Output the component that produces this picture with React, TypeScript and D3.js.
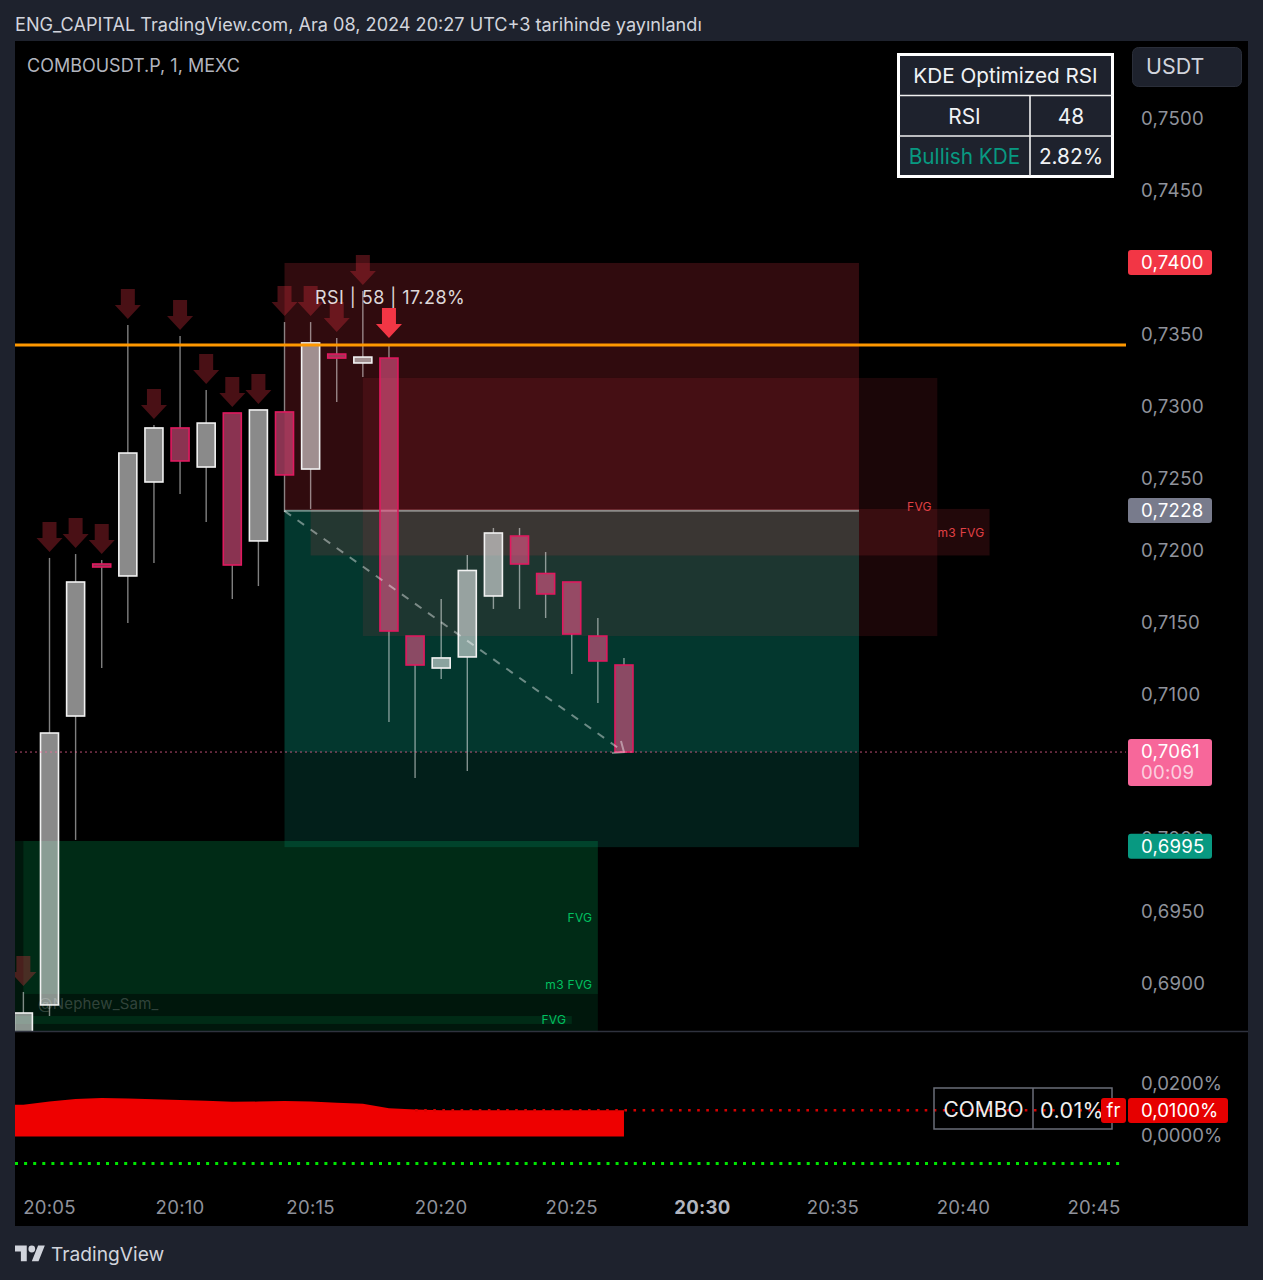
import React, { useEffect, useRef } from 'react';
import * as d3 from 'd3';

const minutes = [4, 5, 6, 7, 8, 9, 10, 11, 12, 13, 14, 15, 16, 17, 18, 19, 20, 21, 22, 23, 24, 25, 26, 27];
const opens = [0.686, 0.68845, 0.7085, 0.71905, 0.71822, 0.72474, 0.72849, 0.72578, 0.72953, 0.72065, 0.7296, 0.72564, 0.73362, 0.733, 0.73334, 0.71405, 0.71183, 0.7126, 0.71683, 0.72099, 0.71839, 0.7178, 0.71405, 0.71204];
const highs = [0.68935, 0.71947, 0.71974, 0.71933, 0.73564, 0.7287, 0.73487, 0.73112, 0.72953, 0.72974, 0.73584, 0.73584, 0.73473, 0.73799, 0.73432, 0.71405, 0.71662, 0.71967, 0.72155, 0.72155, 0.71988, 0.7178, 0.7153, 0.71253];
const lows = [0.6855, 0.68768, 0.6999, 0.71183, 0.71496, 0.71912, 0.72391, 0.72196, 0.71662, 0.71752, 0.72266, 0.72287, 0.73029, 0.73203, 0.70808, 0.7042, 0.71107, 0.70468, 0.71593, 0.71593, 0.7153, 0.71142, 0.7094, 0.706];
const closes = [0.68789, 0.70732, 0.7178, 0.71884, 0.72675, 0.72849, 0.7262, 0.72883, 0.71898, 0.72974, 0.72523, 0.73439, 0.73334, 0.73341, 0.7144, 0.71204, 0.71253, 0.7186, 0.7212, 0.71905, 0.71697, 0.71419, 0.71232, 0.706];

const fadedArrowMinutes = [4, 5, 6, 7, 8, 9, 10, 11, 12, 13, 14, 15, 16, 17];
const strongArrowMinutes = [18];

const fundingMinutes = [3, 4, 5, 6, 7, 8, 9, 10, 11, 12, 13, 14, 15, 16, 17, 18, 19, 20, 27];
const fundingValues = [0.012, 0.0121, 0.0133, 0.0143, 0.0147, 0.0145, 0.0142, 0.0139, 0.0136, 0.0132, 0.0133, 0.0135, 0.0133, 0.0129, 0.0125, 0.0108, 0.0103, 0.01, 0.01];

const priceTicks = [0.75, 0.745, 0.74, 0.735, 0.73, 0.725, 0.72, 0.715, 0.71, 0.705, 0.7, 0.695, 0.69];
const fundingTicks = [0.02, 0.01, 0];
const timeTicks = [5, 10, 15, 20, 25, 30, 35, 40, 45];

// [from minute, to minute, top price, bottom price]
const redZones = [
    [14, 36, 0.73994, 0.7228],
    [17, 39, 0.73196, 0.71405],
    [15, 41, 0.72287, 0.71964],
];
const redZoneOpacity = [0.2, 0.11, 0.14];
const tealZones = [
    [14, 36, 0.7228, 0.6994],
    [14, 36, 0.7228, 0.706],
];
const greenZones = [
    [3, 26, 0.69983, 0.686],
    [4, 26, 0.69983, 0.68921],
    [3, 25, 0.68768, 0.68713],
];

const resistancePrice = 0.73425;
const lastPrice = 0.706;
const entryPrice = 0.7228;
const fundingFloor = -0.0103;
const fundingNow = 0.01;

const fmtPrice = (v: number) => d3.format('.4f')(v).replace('.', ',');
const fmtPct = (v: number) => d3.format('.4f')(v).replace('.', ',') + '%';

const FONT = 'Inter, "Noto Sans", sans-serif';
const BG = '#1e222d';

const App = () => {
    const svgRef = useRef<SVGSVGElement>(null);

    useEffect(() => {
        const svg = d3.select(svgRef.current);
        svg.selectAll('*').remove();

        const x = d3.scaleLinear().domain([5, 45]).range([49.5, 1094]);
        const y = d3.scaleLinear().domain([0.75, 0.69]).range([118, 982.6]);
        const fy = d3.scaleLinear().domain([0, 0.02]).range([1136.5, 1084]);

        // frame
        svg.append('rect').attr('width', 1263).attr('height', 1280).attr('fill', BG);
        svg.append('rect').attr('x', 15).attr('y', 41).attr('width', 1233).attr('height', 1185).attr('fill', '#000');

        const defs = svg.append('defs');
        defs.append('clipPath').attr('id', 'mainClip').append('rect')
            .attr('x', 15).attr('y', 41).attr('width', 1233).attr('height', 990);
        defs.append('clipPath').attr('id', 'fundClip').append('rect')
            .attr('x', 15).attr('y', 1032).attr('width', 1233).attr('height', 160);

        const text = (
            parent: any, str: string, tx: number, ty: number, size: number, fill: string,
            anchor = 'start', spacing = 0
        ) => parent.append('text')
            .attr('x', tx).attr('y', ty).attr('dy', '0.35em')
            .attr('font-family', FONT).attr('font-size', size).attr('fill', fill)
            .attr('text-anchor', anchor).attr('letter-spacing', spacing)
            .text(str);

        text(svg, 'ENG_CAPITAL TradingView.com, Ara 08, 2024 20:27 UTC+3 tarihinde yayınlandı', 15, 24.5, 18.13, '#d1d4dc');
        text(svg, 'COMBOUSDT.P, 1, MEXC', 27, 65.5, 18, '#b2b5be');

        const main = svg.append('g').attr('clip-path', 'url(#mainClip)');

        // zones, teal goes under the red ones
        const zone = (d: number[], fill: string, opacity: number) => main.append('rect')
            .attr('x', x(d[0])).attr('width', x(d[1]) - x(d[0]))
            .attr('y', y(d[2])).attr('height', y(d[3]) - y(d[2]))
            .attr('fill', fill).attr('fill-opacity', opacity);

        tealZones.forEach(d => zone(d, '#089981', 0.2));
        redZones.forEach((d, i) => zone(d, '#f23645', redZoneOpacity[i]));
        greenZones.forEach(d => zone(d, '#00e676', 0.1));

        main.append('line')
            .attr('x1', x(14)).attr('x2', x(36))
            .attr('y1', y(entryPrice) + 0.7).attr('y2', y(entryPrice) + 0.7)
            .attr('stroke', '#fff').attr('stroke-opacity', 0.42).attr('stroke-width', 2);

        text(main, '@Nephew_Sam_', 38, 1004, 15, '#fff', 'start', 0.2).attr('fill-opacity', 0.2);

        // candles
        const candles = main.selectAll('g.candle')
            .data(minutes.map((m, i) => ({ m, o: opens[i], h: highs[i], l: lows[i], c: closes[i] })))
            .join('g').attr('class', 'candle');

        const wick = (from: (d: any) => number, to: (d: any) => number) => candles.append('line')
            .attr('x1', d => x(d.m)).attr('x2', d => x(d.m))
            .attr('y1', from).attr('y2', to)
            .attr('stroke', '#fff').attr('stroke-opacity', 0.5).attr('stroke-width', 1.4);
        wick(d => y(d.h), d => y(Math.max(d.o, d.c)));
        wick(d => y(Math.min(d.o, d.c)), d => y(d.l));

        const bodyWidth = 18;
        candles.append('rect')
            .attr('x', d => x(d.m) - bodyWidth / 2).attr('width', bodyWidth)
            .attr('y', d => y(Math.max(d.o, d.c)))
            .attr('height', d => Math.abs(y(d.o) - y(d.c)))
            .attr('fill', d => d.c >= d.o ? 'rgba(255,255,255,0.54)' : 'rgba(242,90,143,0.57)')
            .attr('stroke', d => d.c >= d.o ? '#f2f2f2' : '#e0195f')
            .attr('stroke-width', 1.6);

        // trade path of the position tool runs over the candles
        main.append('line')
            .attr('x1', x(14)).attr('y1', y(entryPrice) + 1)
            .attr('x2', x(27)).attr('y2', y(lastPrice))
            .attr('stroke', '#fff').attr('stroke-opacity', 0.42)
            .attr('stroke-width', 2).attr('stroke-dasharray', '8 8');
        main.append('path')
            .attr('d', `M${x(27) - 12},${y(lastPrice) + 1}L${x(27)},${y(lastPrice)}L${x(27) - 3},${y(lastPrice) - 11}`)
            .attr('fill', 'none').attr('stroke', '#fff').attr('stroke-opacity', 0.42).attr('stroke-width', 2);

        // signal arrows sit just above the wick
        const arrow = (m: number, fill: string) => {
            const tip = y(highs[minutes.indexOf(m)]) - 6;
            const cx = x(m);
            main.append('path')
                .attr('d', `M${cx - 7},${tip - 30}h14v16h6L${cx},${tip}L${cx - 13},${tip - 14}h6z`)
                .attr('fill', fill);
        };
        fadedArrowMinutes.forEach(m => arrow(m, 'rgba(242,54,69,0.3)'));
        strongArrowMinutes.forEach(m => arrow(m, '#f23645'));

        // level lines
        main.append('line')
            .attr('x1', 15).attr('x2', 1126)
            .attr('y1', y(lastPrice)).attr('y2', y(lastPrice))
            .attr('stroke', '#f7679a').attr('stroke-opacity', 0.75)
            .attr('stroke-width', 1).attr('stroke-dasharray', '2 3');
        svg.append('line')
            .attr('x1', 15).attr('x2', 1126)
            .attr('y1', y(resistancePrice)).attr('y2', y(resistancePrice))
            .attr('stroke', '#ff9800').attr('stroke-width', 3);

        // zone labels
        text(main, 'FVG', x(39) - 5.5, y(0.72277) - 3.5, 12, '#e04045', 'end', 0.3);
        text(main, 'm3 FVG', x(41) - 5, 533, 12, '#e04045', 'end', 0.3);
        text(main, 'FVG', x(26) - 5.5, 917.5, 12, '#00c060', 'end', 0.3);
        text(main, 'm3 FVG', x(26) - 5.5, 984.5, 12, '#00c060', 'end', 0.3);
        text(main, 'FVG', x(25) - 5.5, 1020, 12, '#00c060', 'end', 0.3);

        text(svg, 'RSI | 58 | 17.28%', 315, 297.5, 18, '#fff', 'start', 0.45).attr('fill-opacity', 0.85);

        // pane divider
        svg.append('line').attr('x1', 15).attr('x2', 1248).attr('y1', 1031.5).attr('y2', 1031.5)
            .attr('stroke', '#2f323e').attr('stroke-width', 1.5);

        // funding pane
        const fund = svg.append('g').attr('clip-path', 'url(#fundClip)');
        const area = d3.area<number>()
            .x((d, i) => x(fundingMinutes[i]))
            .y0(fy(0))
            .y1(d => fy(d));
        fund.append('path').datum(fundingValues).attr('d', area).attr('fill', '#ee0000');
        fund.append('line')
            .attr('x1', x(19)).attr('x2', 1101)
            .attr('y1', fy(fundingNow)).attr('y2', fy(fundingNow))
            .attr('stroke', '#d80000').attr('stroke-width', 2.4).attr('stroke-dasharray', '2.6 6.5');
        fund.append('line')
            .attr('x1', 15).attr('x2', 1121)
            .attr('y1', fy(fundingFloor)).attr('y2', fy(fundingFloor))
            .attr('stroke', '#00e600').attr('stroke-width', 3).attr('stroke-dasharray', '3 6.1');

        // axes
        const styleAxis = (g: any, size: number, fill: string, spacing: number) => {
            g.select('.domain').remove();
            g.selectAll('.tick line').remove();
            g.selectAll('.tick text')
                .attr('font-family', FONT).attr('font-size', size).attr('fill', fill).attr('letter-spacing', spacing);
        };

        const priceAxis = svg.append('g').attr('transform', 'translate(1141,1)')
            .call(d3.axisRight(y).tickValues(priceTicks).tickFormat(d => fmtPrice(+d)).tickSize(0).tickPadding(0).offset(0));
        styleAxis(priceAxis, 18.6, '#8f929b', 0.25);

        const fundAxis = svg.append('g').attr('transform', 'translate(1141,0)')
            .call(d3.axisRight(fy).tickValues(fundingTicks).tickFormat(d => fmtPct(+d)).tickSize(0).tickPadding(0).offset(0));
        styleAxis(fundAxis, 18.6, '#8f929b', 0);

        const timeAxis = svg.append('g').attr('transform', 'translate(0,1201)')
            .call(d3.axisBottom(x).tickValues(timeTicks).tickFormat(d => `20:${d3.format('02d')(+d)}`).tickSize(0).tickPadding(0).offset(0));
        styleAxis(timeAxis, 18.6, '#8f929b', 0.25);
        timeAxis.selectAll('.tick text')
            .filter((d: any) => d === 30)
            .attr('font-weight', 700).attr('fill', '#b2b5be');

        // price tags
        const tag = (tx: number, ty: number, w: number, h: number, fill: string) => svg.append('rect')
            .attr('x', tx).attr('y', ty).attr('width', w).attr('height', h).attr('rx', 3).attr('fill', fill);

        const priceTag = (p: number, fill: string) => {
            tag(1128, y(p) - 12, 84, 25, fill);
            text(svg, fmtPrice(p), 1141, y(p) + 0.7, 18.6, '#fff', 'start', 0.25);
        };
        priceTag(0.74, '#f23645');
        priceTag(entryPrice, '#787b8c');
        priceTag(0.6995, '#089981');

        tag(1128, 739, 84, 47, '#f7679a');
        text(svg, '0,7061', 1141, 751, 18.6, '#fff', 'start', 0.25);
        text(svg, '00:09', 1141, 772, 18.6, '#ffffff', 'start', 0.25).attr('fill-opacity', 0.7);

        // funding legend table
        svg.append('rect').attr('x', 934).attr('y', 1088).attr('width', 178).attr('height', 41)
            .attr('fill', 'none').attr('stroke', '#6a6d78').attr('stroke-width', 1.5);
        svg.append('line').attr('x1', 1033).attr('x2', 1033).attr('y1', 1088).attr('y2', 1129)
            .attr('stroke', '#6a6d78').attr('stroke-width', 1.5);
        text(svg, 'COMBO', 983.5, 1110, 21, '#eee', 'middle');
        text(svg, '0.01%', 1040, 1110, 21.5, '#eee', 'start', 0.4);

        tag(1101, 1098, 25, 25, '#e60000');
        text(svg, 'fr', 1113.5, 1110.5, 18.6, '#fff', 'middle');
        tag(1128, 1098, 100, 25, '#e60000');
        text(svg, fmtPct(fundingNow), 1141, fy(fundingNow), 18.6, '#fff');

        // KDE table
        const table = svg.append('g');
        table.append('rect').attr('x', 898.5).attr('y', 54.5).attr('width', 214).attr('height', 122)
            .attr('fill', BG).attr('stroke', '#fff').attr('stroke-width', 3);
        [95.5, 136].forEach(ly => table.append('line')
            .attr('x1', 899).attr('x2', 1113).attr('y1', ly).attr('y2', ly)
            .attr('stroke', '#f0f0f0').attr('stroke-width', 1.6));
        table.append('line').attr('x1', 1030).attr('x2', 1030).attr('y1', 95.5).attr('y2', 176)
            .attr('stroke', '#f0f0f0').attr('stroke-width', 1.6);
        text(table, 'KDE Optimized RSI', 1005.5, 76, 20.7, '#f0f2f5', 'middle');
        text(table, 'RSI', 964.5, 116.5, 20.8, '#f0f2f5', 'middle');
        text(table, '48', 1071, 116.5, 20.8, '#f0f2f5', 'middle');
        text(table, 'Bullish KDE', 964.5, 156.5, 20.8, '#089981', 'middle');
        text(table, '2.82%', 1071, 156.5, 20.8, '#f0f2f5', 'middle');

        // currency button
        svg.append('rect').attr('x', 1132.5).attr('y', 47.5).attr('width', 109).attr('height', 39).attr('rx', 6)
            .attr('fill', BG).attr('stroke', '#2a2e39');
        text(svg, 'USDT', 1146, 67, 21.4, '#d1d4dc');

        // footer logo
        const logo = svg.append('g').attr('transform', 'translate(15,1242) scale(0.84,0.87)').attr('fill', '#d1d4dc');
        logo.append('path').attr('d', 'M14 22H7V11H0V4h14v18zM28 22h-8l7.5-18h8L28 22z');
        logo.append('circle').attr('cx', 20).attr('cy', 8).attr('r', 4);
        text(svg, 'TradingView', 51, 1254, 19.2, '#d1d4dc');
    }, []);

    return (
        <svg
            ref={svgRef}
            width={1263}
            height={1280}
            style={{ position: 'absolute', left: 0, top: 0, display: 'block' }}
        />
    );
};

export default App;
